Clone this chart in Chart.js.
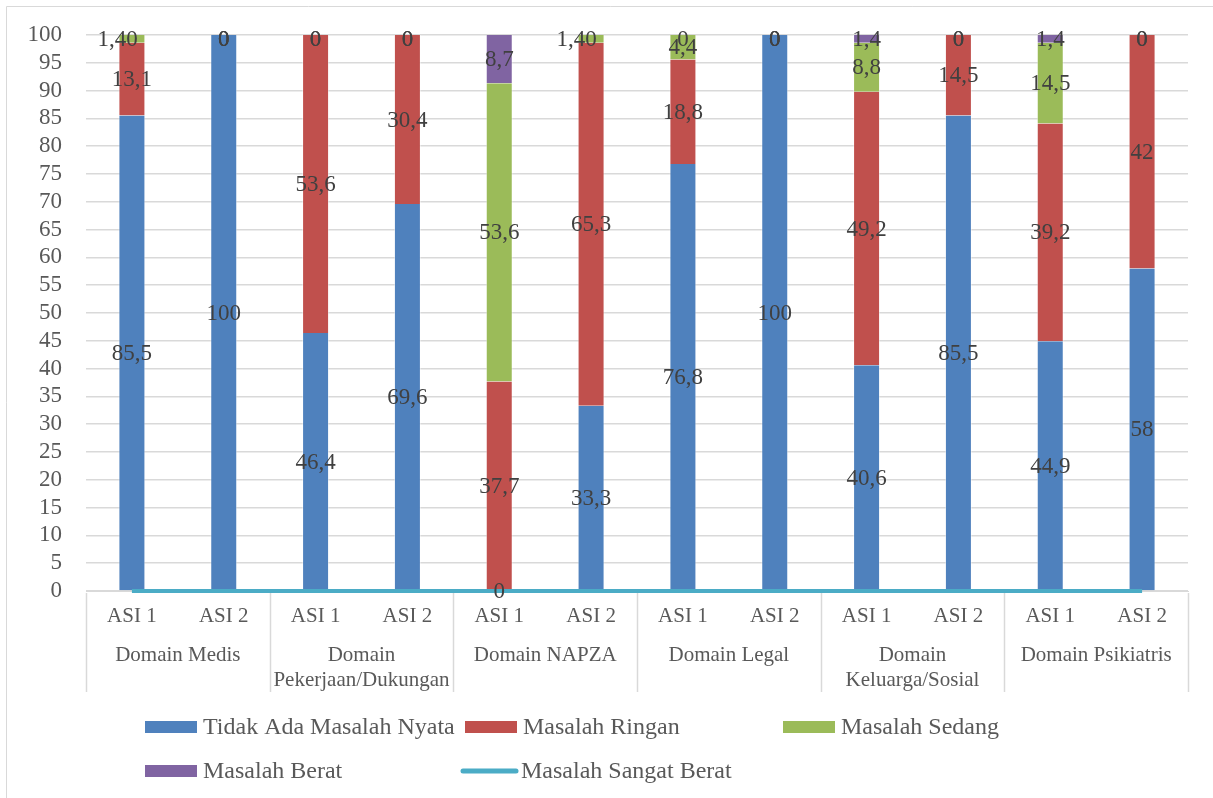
<!DOCTYPE html>
<html>
<head>
<meta charset="utf-8">
<script src="https://cdn.jsdelivr.net/npm/chart.js@4"></script>
<style>
html,body{margin:0;padding:0;background:#fff;}
#wrap{width:1213px;height:798px;position:relative;}
</style>
</head>
<body>
<div id="wrap"><canvas id="c"></canvas></div>
<script>
const categories = ['ASI 1','ASI 2','ASI 1','ASI 2','ASI 1','ASI 2','ASI 1','ASI 2','ASI 1','ASI 2','ASI 1','ASI 2'];
const domains = ['Domain Medis', ['Domain','Pekerjaan/Dukungan'], 'Domain NAPZA', 'Domain Legal', ['Domain','Keluarga/Sosial'], 'Domain Psikiatris'];
const yTicks = [0,5,10,15,20,25,30,35,40,45,50,55,60,65,70,75,80,85,90,95,100];
const seriesNames = ['Tidak Ada Masalah Nyata','Masalah Ringan','Masalah Sedang','Masalah Berat','Masalah Sangat Berat'];
const tidakAda   = [85.5,100,46.4,69.6,0,33.3,76.8,100,40.6,85.5,44.9,58];
const ringan     = [13.1,0,53.6,30.4,37.7,65.3,18.8,0,49.2,14.5,39.2,42];
const sedang     = [1.4,0,0,0,53.6,1.4,4.4,0,8.8,0,14.5,0];
const berat      = [0,0,0,0,8.7,0,0,0,1.4,0,1.4,0];
const sangatBerat= [0,0,0,0,0,0,0,0,0,0,0,0];

const colors = ['#4F81BD','#C0504D','#9BBB59','#8064A2','#4BACC6'];
const FONT = '"Liberation Serif", "Times New Roman", serif';
const TXT = '#595959';
const LBL = '#404040';
const GRID = '#D9D9D9';

function fmt(v){ return String(v).replace('.', ','); }

const barVals = [tidakAda, ringan, sedang, berat];

const decorPlugin = {
  id:'decor',
  beforeDraw(chart){
    const ctx = chart.ctx;
    ctx.save();
    ctx.strokeStyle = GRID; ctx.lineWidth = 1;
    ctx.beginPath();
    ctx.moveTo(6.5, chart.height+5); ctx.lineTo(6.5, 6.5); ctx.lineTo(chart.width+5, 6.5);
    ctx.stroke();
    ctx.restore();
  },
  afterDraw(chart){
    const ctx = chart.ctx;
    const xs = chart.scales.x;
    const area = chart.chartArea;
    const step = xs.width / categories.length;
    ctx.save();
    ctx.strokeStyle = GRID; ctx.lineWidth = 1.5;
    for (let g = 0; g <= domains.length; g++) {
      const px = Math.round(xs.left + g*2*step) + 0.5;
      ctx.beginPath(); ctx.moveTo(px, area.bottom + 2); ctx.lineTo(px, area.bottom + 101); ctx.stroke();
    }
    ctx.fillStyle = TXT; ctx.font = '21px ' + FONT;
    ctx.textAlign = 'center'; ctx.textBaseline = 'middle';
    domains.forEach((d, g) => {
      const cx = (xs.getPixelForValue(2*g) + xs.getPixelForValue(2*g+1)) / 2;
      const lines = Array.isArray(d) ? d : [d];
      lines.forEach((t, k) => ctx.fillText(t, cx, area.bottom + 64 + k*25));
    });
    const legendItems = [
      {i:0, x:145, y:727},{i:1, x:465, y:727},{i:2, x:783, y:727},
      {i:3, x:145, y:771},{i:4, x:463, y:771}
    ];
    ctx.textAlign = 'left'; ctx.font = '24px ' + FONT;
    legendItems.forEach(it => {
      ctx.fillStyle = colors[it.i];
      if (it.i === 4) {
        ctx.strokeStyle = colors[4]; ctx.lineWidth = 5; ctx.lineCap = 'round';
        ctx.beginPath(); ctx.moveTo(it.x, it.y); ctx.lineTo(it.x + 53, it.y); ctx.stroke();
      } else {
        ctx.fillRect(it.x, it.y - 6, 52, 12);
      }
      ctx.fillStyle = TXT; ctx.fillText(seriesNames[it.i], it.x + 58, it.y + 1);
    });
    ctx.restore();
  },
  afterDatasetsDraw(chart){
    const ctx = chart.ctx;
    const area = chart.chartArea;
    ctx.save();
    ctx.font = '23px ' + FONT; ctx.fillStyle = LBL;
    ctx.textAlign = 'center'; ctx.textBaseline = 'middle';
    for (let j = 0; j < categories.length; j++) {
      const zeroTop = barVals.some((arr, i) => arr[j] === 0 && i > 0 && barVals.slice(0,i).reduce((s,a)=>s+a[j],0) >= 99.9);
      for (let i = 0; i < barVals.length; i++) {
        const el = chart.getDatasetMeta(i).data[j];
        const v = barVals[i][j];
        const txt = fmt(v);
        let x = el.x;
        let y = (el.y + el.base) / 2;
        if (y < area.top + 4) y = area.top + 4;
        if (v > 0 && Math.abs(el.base - el.y) < 16 && zeroTop) {
          x -= (ctx.measureText(txt).width + ctx.measureText('0').width) / 2;
        }
        ctx.fillText(txt, x, y + 1);
      }
    }
    ctx.restore();
  }
};

const datasets = barVals.map((arr, i) => ({
  type:'bar', label: seriesNames[i], data: arr, backgroundColor: colors[i],
  borderColor:'rgba(255,255,255,0.45)', borderWidth:{left:1,right:1,top:0,bottom:0},
  barPercentage:0.294, categoryPercentage:1, order:1, stack:'s'
}));
datasets.push({
  type:'line', label: seriesNames[4], data: sangatBerat, borderColor: colors[4],
  backgroundColor: colors[4], borderWidth:4, pointRadius:0, order:0, stack:'line', tension:0, clip:false
});

new Chart(document.getElementById('c'), {
  data: { labels: categories, datasets },
  plugins:[decorPlugin],
  options: {
    responsive:true, maintainAspectRatio:false, animation:false,
    layout:{ padding:{ left:6, right:25, top:35, bottom:0 } },
    plugins:{ legend:{display:false}, tooltip:{enabled:false} },
    scales:{
      x:{
        stacked:true,
        grid:{display:false, drawTicks:false},
        border:{display:true, color:GRID, width:1},
        ticks:{ color:TXT, font:{family:FONT, size:21}, padding:13, maxRotation:0, autoSkip:false },
        afterFit(s){ s.height = 207; s.paddingLeft = 0; s.paddingRight = 0; }
      },
      y:{
        stacked:true, min:0, max:100,
        afterBuildTicks(s){ s.ticks = yTicks.map(v => ({value:v})); },
        grid:{ color:GRID, lineWidth:1.5, drawTicks:false },
        border:{display:false},
        ticks:{ color:TXT, font:{family:FONT, size:23}, padding:24, autoSkip:false },
        afterFit(s){ s.width = 80; s.paddingTop = 0; s.paddingBottom = 0; }
      }
    }
  }
});
</script>
</body>
</html>
